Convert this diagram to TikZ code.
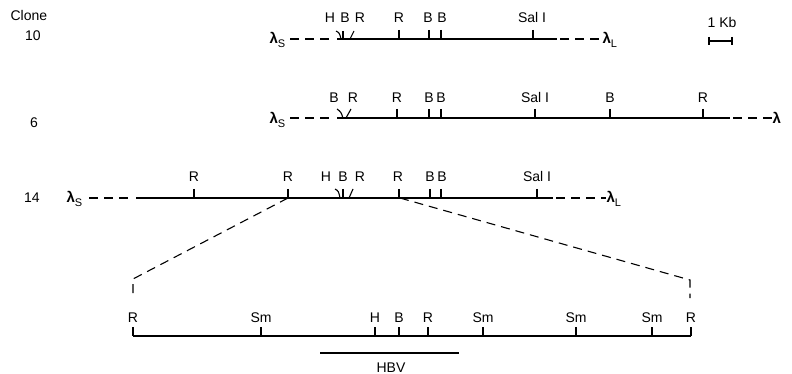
\documentclass[tikz,border=0pt]{standalone}
\usepackage{fontspec}
\setmainfont{Liberation Sans}
\newcommand\lamsub[1]{\raisebox{-4pt}{\fontsize{11}{11}\selectfont #1}}
\newcommand\lamsym{{\fontsize{15}{15}\selectfont\bfseries λ}}
\begin{document}
\begin{tikzpicture}[x=1pt,y=-1pt,line width=1.1pt,
  lab/.style={font=\fontsize{14}{16}\selectfont,anchor=base,inner sep=0pt},
  lam/.style={anchor=base west,inner sep=0pt},
  dsh/.style={dash pattern=on 9pt off 6pt},
  tk/.style={line width=1.1pt}]
\useasboundingbox (0,0) rectangle (792,374);

% clone numbers
\node[lab,anchor=base west] (clone) at (10,21) {Clone};
\node[lab] (c10) at (33,41) {10};
\node[lab] (c6)  at (34,128) {6};
\node[lab] (c14) at (32,203) {14};

% scale bar
\node[lab] (kb) at (722,28) {1 Kb};
\coordinate (kbl) at (709,41);
\coordinate (kbr) at (732,41);
\draw[tk] (kbl) -- (kbr);
\draw[tk] (709,37) -- (709,45) (732,37) -- (732,45);

% ---------------- clone 10 ----------------
\node[lam] (ls10) at (269,44) {\lamsym\lamsub{S}};
\node[lam] (ll10) at (602,44) {\lamsym\lamsub{L}};
\coordinate (d10) at (290,39);
\coordinate (g10) at (330,39);
\coordinate (s10a) at (337,39);
\coordinate (s10b) at (557,39);
\draw[dsh] (d10) -- (g10);
\draw (s10a) -- (s10b);
\draw[dsh] (s10b) ++(3,0) -- (ll10.west |- s10b);
\foreach \x/\t [count=\i] in {330/H,345/B,360/R,399/R,428/B,442/B,532/{Sal I}}
  \node[lab] (a\i) at (\x,23) {\t};
\foreach \x in {399,429,441,533} \draw[tk] (\x,30) -- (\x,39);
\draw[tk] (336,31) .. controls (339.5,33) .. (341,39);
\draw[tk] (343,31) -- (343,39);
\draw[tk] (354,31) -- (350,39);

% ---------------- clone 6 ----------------
\node[lam] (ls6) at (269,124) {\lamsym\lamsub{S}};
\node[lam] (l6) at (772,124) {\lamsym};
\coordinate (d6) at (290,118);
\coordinate (g6) at (330,118);
\coordinate (s6a) at (337,118);
\coordinate (s6b) at (730,118);
\draw[dsh] (d6) -- (g6);
\draw (s6a) -- (s6b);
\draw[dsh] (s6b) ++(3,0) -- (l6.west |- s6b);
\foreach \x/\t [count=\i] in {334/B,353/R,397/R,429/B,441/B,535/{Sal I},610/B,703/R}
  \node[lab] (b\i) at (\x,103) {\t};
\foreach \x in {397,429,441,535,610,703} \draw[tk] (\x,109) -- (\x,118);
\draw[tk] (337,109) .. controls (341,112) .. (343,118);
\draw[tk] (351,109) -- (346,118);

% ---------------- clone 14 ----------------
\node[lam] (ls14) at (66,203) {\lamsym\lamsub{S}};
\node[lam] (ll14) at (606,203) {\lamsym\lamsub{L}};
\coordinate (d14) at (89,198);
\coordinate (g14) at (129,198);
\coordinate (s14a) at (136,198);
\coordinate (s14b) at (553,198);
\draw[dsh] (d14) -- (g14);
\draw (s14a) -- (s14b);
\draw[dsh] (s14b) ++(3,0) -- (ll14.west |- s14b);
\foreach \x/\t [count=\i] in {194/R,288/R,326/H,343/B,360/R,398/R,430/B,442/B,537/{Sal I}}
  \node[lab] (c\i) at (\x,182) {\t};
\foreach \x in {194,288,399,430,441,537} \draw[tk] (\x,189) -- (\x,198);
\draw[tk] (335,189) .. controls (338.5,191) .. (340,198);
\draw[tk] (343,189) -- (343,198);
\draw[tk] (353,189) -- (349,198);
\coordinate (e14l) at (288,198);
\coordinate (e14r) at (400,198);

% ---------------- expanded fragment ----------------
\coordinate (fl) at (133,336);
\coordinate (fr) at (691,336);
\coordinate (kl) at (133,279);
\coordinate (kr) at (690,280);
\draw[dsh] (e14l) -- (kl) -- (133,298);
\draw[dsh] (e14r) -- (kr) -- (690,298);
\draw (fl) -- (fr);
\foreach \x/\t [count=\i] in {133/R,261/Sm,375/H,399/B,428/R,483/Sm,576/Sm,652/Sm,691/R}
  \node[lab] (d\i) at (\x,322) {\t};
\foreach \x in {133,261,375,399,428,483,576,652,691} \draw[tk] (\x,327) -- (\x,336);

% HBV insert
\coordinate (hl) at (320,353);
\coordinate (hr) at (459,353);
\draw (hl) -- (hr);
\node[lab] (hbv) at (391,372) {HBV};
\end{tikzpicture}
\end{document}
